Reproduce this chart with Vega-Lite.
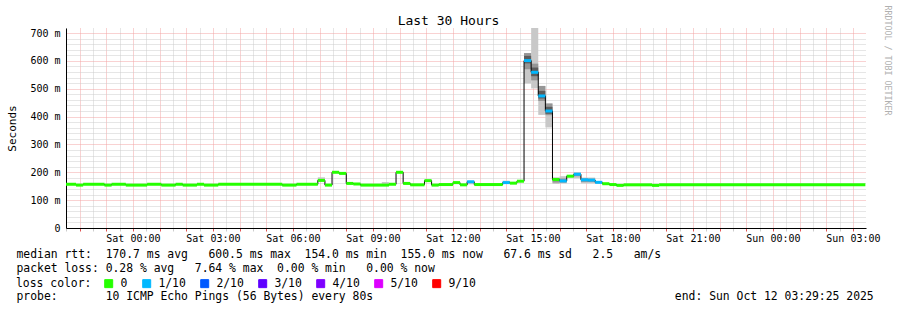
{
  "$schema": "https://vega.github.io/schema/vega-lite/v6.json",
  "width": 800,
  "height": 200,
  "autosize": {"type": "none"},
  "padding": {"left": 66, "top": 28, "right": 31, "bottom": 82},
  "background": "white",
  "config": {"view": {"stroke": null}, "font": "DejaVu Sans Mono"},
  "datasets": {
    "seg": [
      {"t0": "2025-10-10T21:20:00Z", "t1": "2025-10-10T21:52:00Z", "med": 0.157, "loss": "0"},
      {"t0": "2025-10-10T21:52:00Z", "t1": "2025-10-10T22:08:00Z", "med": 0.154, "loss": "0"},
      {"t0": "2025-10-10T22:08:00Z", "t1": "2025-10-10T22:56:00Z", "med": 0.157, "loss": "0"},
      {"t0": "2025-10-10T22:56:00Z", "t1": "2025-10-10T23:12:00Z", "med": 0.154, "loss": "0"},
      {"t0": "2025-10-10T23:12:00Z", "t1": "2025-10-10T23:44:00Z", "med": 0.157, "loss": "0"},
      {"t0": "2025-10-10T23:44:00Z", "t1": "2025-10-11T00:32:00Z", "med": 0.154, "loss": "0"},
      {"t0": "2025-10-11T00:32:00Z", "t1": "2025-10-11T01:04:00Z", "med": 0.157, "loss": "0"},
      {"t0": "2025-10-11T01:04:00Z", "t1": "2025-10-11T01:36:00Z", "med": 0.154, "loss": "0"},
      {"t0": "2025-10-11T01:36:00Z", "t1": "2025-10-11T01:52:00Z", "med": 0.157, "loss": "0"},
      {"t0": "2025-10-11T01:52:00Z", "t1": "2025-10-11T02:24:00Z", "med": 0.154, "loss": "0"},
      {"t0": "2025-10-11T02:24:00Z", "t1": "2025-10-11T02:40:00Z", "med": 0.157, "loss": "0"},
      {"t0": "2025-10-11T02:40:00Z", "t1": "2025-10-11T03:12:00Z", "med": 0.154, "loss": "0"},
      {"t0": "2025-10-11T03:12:00Z", "t1": "2025-10-11T05:36:00Z", "med": 0.157, "loss": "0"},
      {"t0": "2025-10-11T05:36:00Z", "t1": "2025-10-11T06:08:00Z", "med": 0.154, "loss": "0"},
      {"t0": "2025-10-11T06:08:00Z", "t1": "2025-10-11T06:56:00Z", "med": 0.157, "loss": "0"},
      {"t0": "2025-10-11T06:56:00Z", "t1": "2025-10-11T07:12:00Z", "med": 0.171, "loss": "0"},
      {"t0": "2025-10-11T07:12:00Z", "t1": "2025-10-11T07:28:00Z", "med": 0.154, "loss": "0"},
      {"t0": "2025-10-11T07:28:00Z", "t1": "2025-10-11T07:44:00Z", "med": 0.200, "loss": "0"},
      {"t0": "2025-10-11T07:44:00Z", "t1": "2025-10-11T08:00:00Z", "med": 0.196, "loss": "0"},
      {"t0": "2025-10-11T08:00:00Z", "t1": "2025-10-11T08:16:00Z", "med": 0.160, "loss": "0"},
      {"t0": "2025-10-11T08:16:00Z", "t1": "2025-10-11T08:32:00Z", "med": 0.158, "loss": "0"},
      {"t0": "2025-10-11T08:32:00Z", "t1": "2025-10-11T09:36:00Z", "med": 0.154, "loss": "0"},
      {"t0": "2025-10-11T09:36:00Z", "t1": "2025-10-11T09:52:00Z", "med": 0.157, "loss": "0"},
      {"t0": "2025-10-11T09:52:00Z", "t1": "2025-10-11T10:08:00Z", "med": 0.200, "loss": "0"},
      {"t0": "2025-10-11T10:08:00Z", "t1": "2025-10-11T10:24:00Z", "med": 0.160, "loss": "0"},
      {"t0": "2025-10-11T10:24:00Z", "t1": "2025-10-11T10:56:00Z", "med": 0.155, "loss": "0"},
      {"t0": "2025-10-11T10:56:00Z", "t1": "2025-10-11T11:12:00Z", "med": 0.170, "loss": "0"},
      {"t0": "2025-10-11T11:12:00Z", "t1": "2025-10-11T11:28:00Z", "med": 0.154, "loss": "0"},
      {"t0": "2025-10-11T11:28:00Z", "t1": "2025-10-11T12:00:00Z", "med": 0.156, "loss": "0"},
      {"t0": "2025-10-11T12:00:00Z", "t1": "2025-10-11T12:16:00Z", "med": 0.163, "loss": "0"},
      {"t0": "2025-10-11T12:16:00Z", "t1": "2025-10-11T12:32:00Z", "med": 0.155, "loss": "0"},
      {"t0": "2025-10-11T12:32:00Z", "t1": "2025-10-11T12:48:00Z", "med": 0.166, "loss": "1/10"},
      {"t0": "2025-10-11T12:48:00Z", "t1": "2025-10-11T13:52:00Z", "med": 0.156, "loss": "0"},
      {"t0": "2025-10-11T13:52:00Z", "t1": "2025-10-11T14:08:00Z", "med": 0.163, "loss": "1/10"},
      {"t0": "2025-10-11T14:08:00Z", "t1": "2025-10-11T14:24:00Z", "med": 0.161, "loss": "0"},
      {"t0": "2025-10-11T14:24:00Z", "t1": "2025-10-11T14:40:00Z", "med": 0.168, "loss": "0"},
      {"t0": "2025-10-11T14:40:00Z", "t1": "2025-10-11T14:56:00Z", "med": 0.601, "loss": "1/10"},
      {"t0": "2025-10-11T14:56:00Z", "t1": "2025-10-11T15:12:00Z", "med": 0.559, "loss": "1/10"},
      {"t0": "2025-10-11T15:12:00Z", "t1": "2025-10-11T15:28:00Z", "med": 0.474, "loss": "1/10"},
      {"t0": "2025-10-11T15:28:00Z", "t1": "2025-10-11T15:44:00Z", "med": 0.420, "loss": "1/10"},
      {"t0": "2025-10-11T15:44:00Z", "t1": "2025-10-11T16:00:00Z", "med": 0.174, "loss": "0"},
      {"t0": "2025-10-11T16:00:00Z", "t1": "2025-10-11T16:16:00Z", "med": 0.169, "loss": "1/10"},
      {"t0": "2025-10-11T16:16:00Z", "t1": "2025-10-11T16:32:00Z", "med": 0.186, "loss": "0"},
      {"t0": "2025-10-11T16:32:00Z", "t1": "2025-10-11T16:48:00Z", "med": 0.193, "loss": "1/10"},
      {"t0": "2025-10-11T16:48:00Z", "t1": "2025-10-11T17:04:00Z", "med": 0.173, "loss": "1/10"},
      {"t0": "2025-10-11T17:04:00Z", "t1": "2025-10-11T17:20:00Z", "med": 0.172, "loss": "1/10"},
      {"t0": "2025-10-11T17:20:00Z", "t1": "2025-10-11T17:36:00Z", "med": 0.164, "loss": "1/10"},
      {"t0": "2025-10-11T17:36:00Z", "t1": "2025-10-11T17:52:00Z", "med": 0.159, "loss": "0"},
      {"t0": "2025-10-11T17:52:00Z", "t1": "2025-10-11T18:08:00Z", "med": 0.156, "loss": "0"},
      {"t0": "2025-10-11T18:08:00Z", "t1": "2025-10-11T18:24:00Z", "med": 0.153, "loss": "0"},
      {"t0": "2025-10-11T18:24:00Z", "t1": "2025-10-11T19:28:00Z", "med": 0.155, "loss": "0"},
      {"t0": "2025-10-11T19:28:00Z", "t1": "2025-10-11T19:44:00Z", "med": 0.153, "loss": "0"},
      {"t0": "2025-10-11T19:44:00Z", "t1": "2025-10-12T03:28:00Z", "med": 0.155, "loss": "0"}
    ],
    "smoke": [
      {"t0": "2025-10-11T06:56:00Z", "t1": "2025-10-11T07:12:00Z", "lo": 0.166, "hi": 0.182},
      {"t0": "2025-10-11T09:20:00Z", "t1": "2025-10-11T09:36:00Z", "lo": 0.153, "hi": 0.165},
      {"t0": "2025-10-11T12:32:00Z", "t1": "2025-10-11T12:48:00Z", "lo": 0.157, "hi": 0.168},
      {"t0": "2025-10-11T13:52:00Z", "t1": "2025-10-11T14:08:00Z", "lo": 0.160, "hi": 0.170},
      {"t0": "2025-10-11T14:40:00Z", "t1": "2025-10-11T14:56:00Z", "lo": 0.519, "hi": 0.628, "mlo": 0.570, "mhi": 0.628, "dlo": 0.591, "dhi": 0.618},
      {"t0": "2025-10-11T14:56:00Z", "t1": "2025-10-11T15:12:00Z", "lo": 0.501, "hi": 0.750, "mlo": 0.530, "mhi": 0.590, "dlo": 0.545, "dhi": 0.576},
      {"t0": "2025-10-11T15:12:00Z", "t1": "2025-10-11T15:28:00Z", "lo": 0.406, "hi": 0.510, "mlo": 0.456, "mhi": 0.510, "dlo": 0.465, "dhi": 0.492},
      {"t0": "2025-10-11T15:28:00Z", "t1": "2025-10-11T15:44:00Z", "lo": 0.361, "hi": 0.447, "mlo": 0.405, "mhi": 0.447, "dlo": 0.410, "dhi": 0.435},
      {"t0": "2025-10-11T15:44:00Z", "t1": "2025-10-11T16:00:00Z", "lo": 0.158, "hi": 0.182, "mlo": 0.163, "mhi": 0.178},
      {"t0": "2025-10-11T16:00:00Z", "t1": "2025-10-11T16:16:00Z", "lo": 0.160, "hi": 0.186, "mlo": 0.163, "mhi": 0.178},
      {"t0": "2025-10-11T16:16:00Z", "t1": "2025-10-11T16:32:00Z", "lo": 0.181, "hi": 0.190},
      {"t0": "2025-10-11T16:32:00Z", "t1": "2025-10-11T16:48:00Z", "lo": 0.179, "hi": 0.201, "mlo": 0.186, "mhi": 0.197},
      {"t0": "2025-10-11T16:48:00Z", "t1": "2025-10-11T17:04:00Z", "lo": 0.160, "hi": 0.181, "mlo": 0.165, "mhi": 0.178},
      {"t0": "2025-10-11T17:04:00Z", "t1": "2025-10-11T17:20:00Z", "lo": 0.160, "hi": 0.181, "mlo": 0.165, "mhi": 0.177},
      {"t0": "2025-10-11T17:20:00Z", "t1": "2025-10-11T17:36:00Z", "lo": 0.158, "hi": 0.168}
    ]
  },
  "layer": [
    {
      "data": {"name": "smoke"},
      "mark": {"type": "rect", "color": "#c8c8c8", "clip": true},
      "encoding": {
        "x": {"field": "t0", "type": "temporal", "scale": {"type": "utc", "domain": [1760131765000, 1760239765000]},
          "axis": {"orient": "top", "title": "Last 30 Hours", "domain": false, "ticks": false, "labels": false, "grid": false,
            "titleX": 382, "titleY": -4, "titleAlign": "center", "titleBaseline": "alphabetic",
            "titleFont": "DejaVu Sans Mono", "titleFontSize": 13, "titleFontWeight": "normal", "titleColor": "#000"}},
        "x2": {"field": "t1"},
        "y": {"field": "lo", "type": "quantitative", "scale": {"domain": [0, 0.718], "nice": false}, "axis": null},
        "y2": {"field": "hi"}
      }
    },
    {
      "data": {"name": "smoke"},
      "mark": {"type": "rect", "color": "#969696", "clip": true},
      "encoding": {
        "x": {"field": "t0", "type": "temporal", "scale": {"type": "utc", "domain": [1760131765000, 1760239765000]},
          "axis": {"orient": "bottom", "domain": false, "ticks": false, "labels": false, "grid": false,
            "title": "probe:\u00a0\u00a0\u00a0\u00a0\u00a0\u00a0\u00a010 ICMP Echo Pings (56 Bytes) every 80s\u00a0\u00a0\u00a0\u00a0\u00a0\u00a0\u00a0\u00a0\u00a0\u00a0\u00a0\u00a0\u00a0\u00a0\u00a0\u00a0\u00a0\u00a0\u00a0\u00a0\u00a0\u00a0\u00a0\u00a0\u00a0\u00a0\u00a0\u00a0\u00a0\u00a0\u00a0\u00a0\u00a0\u00a0\u00a0\u00a0\u00a0\u00a0\u00a0\u00a0\u00a0\u00a0\u00a0\u00a0end: Sun Oct 12 03:29:25 2025",
            "titleFont": "DejaVu Sans Mono", "titleFontSize": 11.4, "titleFontWeight": "normal", "titleColor": "#000",
            "titleAnchor": "start", "titleAlign": "left", "titleBaseline": "alphabetic", "titleX": -50, "titleY": 71}},
        "x2": {"field": "t1"},
        "y": {"field": "mlo", "type": "quantitative", "scale": {"domain": [0, 0.718], "nice": false}, "axis": null},
        "y2": {"field": "mhi"}
      }
    },
    {
      "data": {"name": "smoke"},
      "mark": {"type": "rect", "color": "#5c5c5c", "clip": true},
      "encoding": {
        "x": {"field": "t0", "type": "temporal", "scale": {"type": "utc", "domain": [1760131765000, 1760239765000]}, "axis": null},
        "x2": {"field": "t1"},
        "y": {"field": "dlo", "type": "quantitative", "scale": {"domain": [0, 0.718], "nice": false}, "axis": null},
        "y2": {"field": "dhi"}
      }
    },
    {
      "data": {"name": "seg"},
      "mark": {"type": "line", "interpolate": "step-after", "color": "#000", "strokeWidth": 1, "clip": true},
      "encoding": {
        "x": {"field": "t0", "type": "temporal", "scale": {"type": "utc", "domain": [1760131765000, 1760239765000]},
          "axis": {
            "orient": "bottom",
            "values": [1760131800000, 1760133600000, 1760135400000, 1760137200000, 1760139000000, 1760140800000, 1760142600000, 1760144400000, 1760146200000, 1760148000000, 1760149800000, 1760151600000, 1760153400000, 1760155200000, 1760157000000, 1760158800000, 1760160600000, 1760162400000, 1760164200000, 1760166000000, 1760167800000, 1760169600000, 1760171400000, 1760173200000, 1760175000000, 1760176800000, 1760178600000, 1760180400000, 1760182200000, 1760184000000, 1760185800000, 1760187600000, 1760189400000, 1760191200000, 1760193000000, 1760194800000, 1760196600000, 1760198400000, 1760200200000, 1760202000000, 1760203800000, 1760205600000, 1760207400000, 1760209200000, 1760211000000, 1760212800000, 1760214600000, 1760216400000, 1760218200000, 1760220000000, 1760221800000, 1760223600000, 1760225400000, 1760227200000, 1760229000000, 1760230800000, 1760232600000, 1760234400000, 1760236200000, 1760238000000],
            "grid": true,
            "gridColor": {"condition": {"test": "utcminutes(datum.value) == 0", "value": "#f2a4a4"}, "value": "#cccccc"},
            "gridDash": [1, 1],
            "ticks": true,
            "tickSize": 3,
            "tickColor": {"condition": {"test": "utcminutes(datum.value) == 0", "value": "#e05050"}, "value": "#cccccc"},
            "domainColor": "#000",
            "labelExpr": "utcminutes(datum.value) == 0 && utchours(datum.value) % 3 == 0 ? utcFormat(datum.value, '%a %H:%M') : ''",
            "labelOverlap": false,
            "labelFlush": false,
            "labelFont": "DejaVu Sans Mono",
            "labelFontSize": 10,
            "labelColor": "#000",
            "labelPadding": 2,
            "labelBaseline": "top",
            "title": [
              "median rtt:\u00a0\u00a0170.7 ms avg\u00a0\u00a0\u00a0600.5 ms max\u00a0\u00a0154.0 ms min\u00a0\u00a0155.0 ms now\u00a0\u00a0\u00a067.6 ms sd\u00a0\u00a0\u00a02.5\u00a0\u00a0\u00a0am/s",
              "packet loss:\u00a00.28 % avg\u00a0\u00a0\u00a07.64 % max\u00a0\u00a00.00 % min\u00a0\u00a0\u00a00.00 % now"
            ],
            "titleFont": "DejaVu Sans Mono",
            "titleFontSize": 11.4,
            "titleFontWeight": "normal",
            "titleColor": "#000",
            "titleAnchor": "start",
            "titleAlign": "left",
            "titleBaseline": "alphabetic",
            "titleX": -50,
            "titleY": 29,
            "titleLineHeight": 14
          }},
        "y": {"field": "med", "type": "quantitative", "scale": {"domain": [0, 0.718], "nice": false},
          "axis": {
            "orient": "left",
            "values": [0, 0.02, 0.04, 0.06, 0.08, 0.1, 0.12, 0.14, 0.16, 0.18, 0.2, 0.22, 0.24, 0.26, 0.28, 0.3, 0.32, 0.34, 0.36, 0.38, 0.4, 0.42, 0.44, 0.46, 0.48, 0.5, 0.52, 0.54, 0.56, 0.58, 0.6, 0.62, 0.64, 0.66, 0.68, 0.7],
            "grid": true,
            "gridColor": {"condition": {"test": "round(datum.value * 1000) % 100 == 0", "value": "#f2a4a4"}, "value": "#cccccc"},
            "gridDash": [1, 1],
            "ticks": false,
            "domainColor": "#000",
            "labelExpr": "round(datum.value * 1000) % 100 == 0 ? (datum.value == 0 ? '0' : round(datum.value * 1000) + ' m') : ''",
            "labelOverlap": false,
            "labelFlush": false,
            "labelFont": "DejaVu Sans Mono",
            "labelFontSize": 10,
            "labelColor": "#000",
            "labelPadding": 6,
            "title": "Seconds",
            "titleFont": "DejaVu Sans Mono",
            "titleFontSize": 11,
            "titleFontWeight": "normal",
            "titleColor": "#000",
            "titleAngle": 270,
            "titleX": -51,
            "titleY": 100,
            "titleAlign": "center",
            "titleBaseline": "alphabetic"
          }}
      }
    },
    {
      "data": {"name": "seg"},
      "mark": {"type": "rule", "strokeWidth": 3, "clip": true},
      "encoding": {
        "x": {"field": "t0", "type": "temporal", "scale": {"type": "utc", "domain": [1760131765000, 1760239765000]}, "axis": null},
        "x2": {"field": "t1"},
        "y": {"field": "med", "type": "quantitative", "scale": {"domain": [0, 0.718], "nice": false},
          "axis": {"orient": "right", "title": "RRDTOOL / TOBI OETIKER", "domain": false, "ticks": false, "labels": false, "grid": false,
            "titleAngle": 90, "titleX": 18.3, "titleY": -23, "titleAlign": "left", "titleBaseline": "alphabetic",
            "titleFont": "DejaVu Sans Mono", "titleFontSize": 8.3, "titleFontWeight": "normal", "titleColor": "#b0b0b0"}},
        "color": {"field": "loss", "type": "nominal",
          "scale": {"domain": ["0", "1/10", "2/10", "3/10", "4/10", "5/10", "9/10"], "range": ["#26ff00", "#00b8ff", "#0059ff", "#5e00ff", "#7e00ff", "#dd00ff", "#ff0000"]},
          "legend": {
            "orient": "none", "legendX": -50, "legendY": 249.8, "direction": "horizontal",
            "title": "loss color:", "titleOrient": "left", "titleFont": "DejaVu Sans Mono", "titleFontSize": 11.4, "titleFontWeight": "normal", "titleColor": "#000", "titlePadding": 11,
            "symbolType": "square", "symbolSize": 64, "symbolStrokeColor": "#000", "symbolStrokeWidth": 1, "symbolOpacity": 1,
            "labelFont": "DejaVu Sans Mono", "labelFontSize": 11.4, "labelColor": "#000", "labelOffset": 6, "columnPadding": 12, "padding": 0,
            "encode": {"symbols": {"update": {"fill": {"scale": "color", "field": "value"}, "stroke": {"value": "#000"}, "strokeWidth": {"value": 1}, "opacity": {"value": 1}}}}
          }}
      }
    }
  ],
  "resolve": {"axis": {"x": "independent", "y": "independent"}}
}
